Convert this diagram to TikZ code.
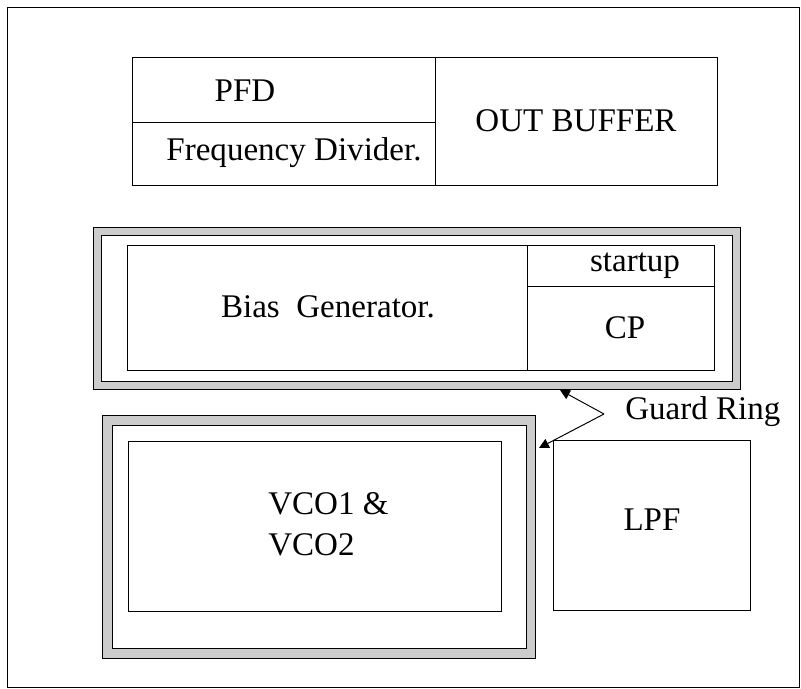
\documentclass[tikz,border=0pt]{standalone}
\usepackage{fontspec}
\setmainfont{Liberation Serif}
\newfontfamily\layoutfont{Liberation Serif}
\usetikzlibrary{arrows.meta}

\tikzset{
    block/.style={draw=black, line width=0.6pt},
    guardring/.style={draw=black, fill=gray!40, even odd rule, line width=0.6pt},
    blocktext/.style={font=\layoutfont\fontsize{23.5}{29}\selectfont, inner sep=0pt},
    pointer/.style={line width=0.7pt, -{Triangle[length=7pt,width=7pt]}}
}

\begin{document}
\begin{tikzpicture}[x=0.025cm, y=-0.025cm]
    % Fix the page to the picture size
    \useasboundingbox (0,0) rectangle (801,689);

    % Draw the outer frame of the chip
    \draw[block] (7,7) rectangle (799,687);

    % Top row: PFD, divider and output buffer
    \draw[block] (132,57) rectangle (717,185);
    \draw[block] (435,57) -- (435,185);
    \draw[block] (132,122) -- (435,122);
    \node[blocktext] (pfd) at (245,91) {PFD};
    \node[blocktext] (div) at (294,153) {Frequency Divider.};
    \node[blocktext] (buf) at (576,121) {OUT BUFFER};

    % Guard ring round the bias block
    \draw[guardring] (93,227) rectangle (740,389) (101,235) rectangle (732,381);
    \draw[block] (127,245) rectangle (714,370);
    \draw[block] (527,245) -- (527,370);
    \draw[block] (527,286) -- (714,286);
    \node[blocktext] (bias) at (328,307) {Bias\ \ Generator.};
    \node[blocktext] (startup) at (635,266) {startup};
    \node[blocktext] (cp) at (625,328) {CP};

    % Guard ring round the oscillators
    \draw[guardring] (102,415) rectangle (535,658) (112,425) rectangle (526,648);
    \draw[block] (128,441) rectangle (501,611);
    \node[blocktext, align=left, anchor=west] (vco) at (268,524) {VCO1 \&\\VCO2};

    % Loop filter
    \draw[block] (553,440) rectangle (750,610);
    \node[blocktext] (lpf) at (652,520) {LPF};

    % Guard ring callout
    \node[blocktext, anchor=west] (guard) at (625,412) {Guard Ring};
    \coordinate (apex) at (604,414);
    \coordinate (biastip) at (560,390);
    \coordinate (vcotip) at (539,448);
    \draw[pointer] (apex) -- (biastip);
    \draw[pointer] (apex) -- (vcotip);

\end{tikzpicture}
\end{document}
